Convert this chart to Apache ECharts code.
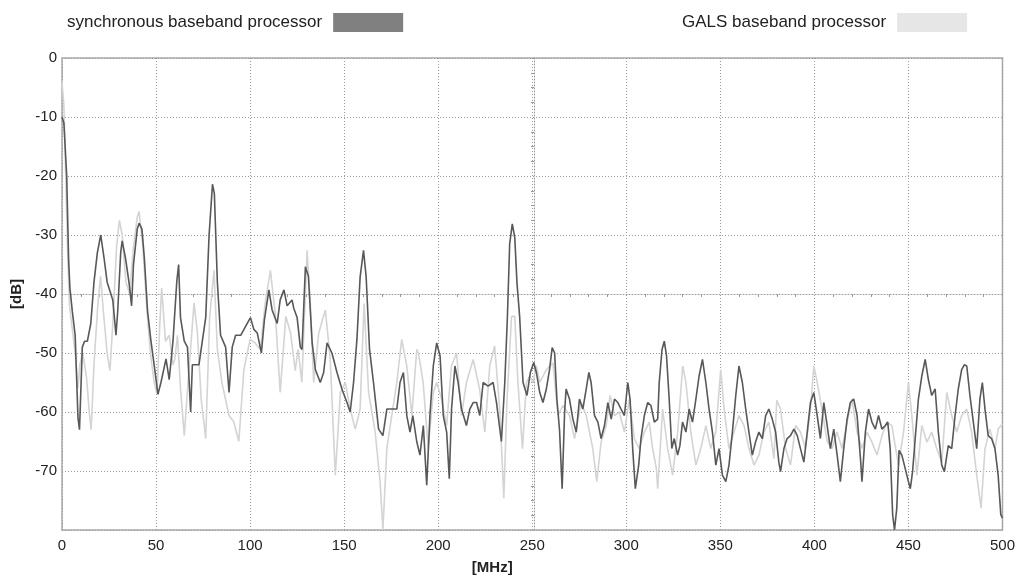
<!DOCTYPE html>
<html>
<head>
<meta charset="utf-8">
<script src="https://cdn.jsdelivr.net/npm/echarts@6/dist/echarts.min.js"></script>
<style>
  html, body { margin: 0; padding: 0; background: #fff; }
  #chart { width: 1018px; height: 580px; }
</style>
</head>
<body>
<div id="chart"></div>
<script>
// spectrum readings, [MHz, dB]
var syncName = 'synchronous baseband processor';
var galsName = 'GALS baseband processor';

var syncData = [
  [0,-10],[1,-11],[2.5,-20],[3.5,-34],[4.2,-39],[5.5,-43],[7,-47],[8.5,-61],[9.3,-63],[10.8,-49],[12,-48],[13.5,-48],
  [15.3,-45],[17,-38],[18.8,-33],[20.6,-30],[22.4,-34],[24,-38],[26,-40],[27,-41],[28.7,-47],[29.6,-43],[31.2,-33],
  [32,-31],[33.8,-34],[35.6,-38],[37,-42],[38,-35],[40,-29],[41,-28],[42.5,-29],[43.8,-34],[45.5,-43],[47.3,-48],
  [49,-52],[51,-57],[52.6,-55],[55.3,-51],[57,-54.5],[59,-48],[61,-38],[62,-35],[63,-44],[65,-48],[66.7,-49],
  [68.4,-60],[69.3,-52],[71,-52],[72.8,-52],[74.6,-48],[76.4,-44],[78.2,-30],[80,-21.4],[81,-23],[82.6,-38],
  [84.3,-47],[87,-49],[88.8,-56.7],[90.5,-49],[92.3,-47],[95,-47],[97.6,-45.5],[100.2,-44],[102,-46],[103.8,-46.6],
  [106,-50],[107.6,-44.4],[110,-39.3],[111.7,-42.7],[114.4,-45],[116,-41],[118,-39.3],[119.7,-42],[122.3,-41],
  [123.2,-42.4],[125,-44],[126.7,-49],[127.6,-49.4],[129.4,-35.4],[131,-37],[133,-48.3],[134.7,-52.8],[137.3,-55],
  [139.1,-53.3],[140.9,-48.3],[143.5,-50],[146.2,-53.3],[148.8,-56.1],[151.5,-58.4],[153.2,-60],[155,-55],
  [156.8,-47.7],[158.5,-37.1],[160.3,-32.6],[161.7,-37.1],[163.5,-49.4],[165.6,-55],[168.3,-62.9],[170.6,-64],
  [172.7,-59.5],[175.3,-59.5],[178,-59.5],[179.7,-55],[181.5,-53.3],[183.3,-60.6],[185,-63.4],[186.5,-60.6],
  [188.6,-65],[190.3,-67.3],[192.1,-62.3],[193.9,-72.4],[195.6,-60.6],[197.4,-52.2],[199.2,-48.3],[201,-50.5],
  [202.7,-60.6],[204.5,-63.4],[205.9,-71.3],[207.1,-59.5],[208.9,-52.2],[210.6,-55],[212.4,-59.5],[215,-62.3],
  [216.8,-59.5],[218.6,-58.4],[220.4,-58.4],[222.1,-60.6],[223.9,-55],[226.5,-55.6],[229.2,-55],[231,-58.4],
  [233.6,-65],[235.4,-55],[236.8,-43.8],[238,-31.5],[239.4,-28.1],[240.7,-30.4],[241.9,-38.2],[243.3,-43.8],
  [245.1,-55],[247.2,-57.2],[249,-53.3],[250.8,-51.6],[252.2,-53.3],[254,-56.7],[255.7,-58.4],[257.5,-56.1],
  [259.2,-52.8],[260.6,-49.1],[261.9,-50],[263.1,-57.8],[264.5,-63],[265.9,-73],[267.2,-60],[268,-56.1],
  [269.8,-57.8],[271.6,-61.2],[273.4,-63.4],[275.1,-57.8],[276.9,-59.5],[278.7,-56.1],[280.1,-53.3],[281.3,-55],
  [283.1,-60.6],[284.9,-61.7],[286.6,-64.5],[288.4,-62.3],[290.2,-58.4],[292,-61.2],[293.7,-57.8],[295.5,-58.4],
  [297.2,-59.5],[299,-60.6],[300.8,-55],[302,-57.8],[303.4,-66.2],[304.8,-73],[306.6,-69],[307.8,-64.5],
  [309.6,-60.6],[311.4,-58.4],[313.1,-58.9],[314.9,-61.7],[316.7,-61.2],[317.5,-55],[319,-49.4],[320.2,-48],
  [321.4,-50.5],[322.8,-57.8],[324.2,-66.2],[325.5,-64.5],[327.3,-67.3],[328.5,-65.7],[329.9,-61.7],[331.7,-63.4],
  [333.4,-59.5],[335.2,-61.7],[337,-57.8],[338.7,-53.9],[340.5,-51.1],[342.3,-55],[344,-59.5],[345.8,-63.4],
  [347.6,-69],[349.3,-66.2],[351.1,-70.7],[352.9,-71.8],[354.6,-69],[356.4,-63.4],[358.2,-57.2],[359.9,-52.2],
  [361.7,-55],[363.5,-59.5],[365.2,-63.4],[367,-67.3],[368.8,-65],[370.5,-63.4],[372.3,-64.5],[374.1,-60.6],
  [375.8,-59.5],[377.6,-61.2],[379.4,-63.4],[381.1,-68.5],[382,-70.1],[383.8,-66.2],[385.5,-64.5],[387.3,-64],
  [389.1,-62.9],[390.9,-64],[392.6,-66.2],[394.4,-68.5],[396.2,-63.4],[397.9,-58.4],[399.7,-56.7],[401.5,-60.6],
  [403.2,-64.5],[405,-58.4],[406.8,-62.3],[408.5,-66.2],[410.3,-62.9],[412.1,-67.3],[413.8,-71.8],[415.6,-66.2],
  [417.4,-61.2],[419.1,-58.4],[420.9,-57.8],[422.7,-60.6],[424.5,-67.9],[425.3,-71.8],[427.1,-63.4],[428.8,-59.5],
  [430.6,-61.7],[432.4,-62.9],[434.1,-60.6],[435.9,-62.9],[437.7,-62.3],[439,-61.7],[440.3,-66.2],[441.6,-77.4],
  [442.6,-80],[443.8,-76.3],[445,-66.5],[446.5,-67.3],[448.3,-69.6],[450,-71.8],[451,-73],[452.2,-70.1],
  [453.6,-64.5],[455.3,-57.8],[457.1,-53.9],[458.9,-51.1],[460.6,-54.5],[462.4,-57.2],[464.2,-56.1],[465.9,-63.4],
  [467.7,-69],[469.1,-70.1],[471.2,-65.7],[473,-66.2],[474.8,-60.6],[476.5,-56.1],[478.3,-52.8],[479.7,-52],
  [481,-52.2],[482.7,-57.2],[484.5,-61.7],[486.3,-66.2],[488,-57.8],[489.3,-55],[490.7,-59.5],[492.4,-64],
  [494.2,-64.5],[496,-66.2],[497.7,-70.7],[499.1,-77.4],[500,-78]
];

var galsData = [
  [0,-4],[1,-8],[2,-20],[3,-33],[4,-42],[5.5,-46],[7,-50],[8.5,-56],[9.5,-52],[11,-50],[13,-54],[14.5,-60],
  [15.5,-63],[17,-52],[19,-42],[20.5,-37],[22,-43],[24,-50],[25.5,-53],[27,-45],[29,-32],[30.5,-27.5],[32,-30],
  [34,-38],[36,-40],[38,-32],[40,-27],[41,-26],[43,-32],[45,-42],[47,-50],[49,-55],[50.5,-57],[52,-45],[53,-39],
  [55,-48],[57,-47],[59,-52],[60,-51],[61.4,-47],[63,-56],[65,-64],[67,-55],[70.2,-41.5],[72,-46.6],[74,-57.8],
  [76.4,-64.5],[78.5,-44],[80.8,-36],[82.6,-49.4],[85,-55],[88.8,-60.6],[91.4,-61.7],[94,-65],[96.7,-52.8],
  [100,-47.7],[102.6,-48.3],[105.5,-49.4],[108,-41.6],[110.8,-36],[113.5,-43.8],[116,-56.7],[119,-43.8],
  [121.5,-46.6],[124,-53],[125.5,-49.4],[127.5,-55],[130.3,-32.6],[132,-41.6],[133.8,-55],[136.5,-46.6],
  [140,-42.7],[142.6,-51],[145.3,-70.7],[148,-56.7],[150.6,-55],[153.2,-59.5],[155.9,-62.9],[158.5,-59.5],
  [160.6,-41.6],[163,-56.7],[166.5,-63.4],[169.1,-71.8],[170.6,-80],[172.7,-66.2],[175.3,-60.6],[178,-55],
  [180.6,-47.7],[183.3,-52.2],[186,-60.6],[188.6,-49.4],[189.5,-50],[192,-55],[194.7,-66.2],[197.4,-56.7],
  [199.2,-55],[201.8,-57.8],[204.5,-62.3],[207,-52.2],[209.8,-50],[212.4,-60.6],[215,-55],[218.6,-51.1],
  [222,-56.1],[224.8,-63.4],[227.4,-52.2],[230,-48.8],[232.7,-59.5],[234.9,-74.6],[236.6,-57.8],[239,-43.8],
  [240.7,-43.8],[242.4,-55],[244.8,-66.2],[246.9,-55],[248.6,-53.9],[250.4,-55],[252.2,-52.2],[254,-55],
  [257.5,-52.8],[261,-51.7],[263.7,-60.6],[266.3,-58.9],[269.8,-60.6],[272.5,-64.5],[276,-58.4],[278.7,-60.6],
  [282.2,-66.2],[284.3,-71.8],[286.6,-65.1],[289.3,-62.3],[291.4,-57.2],[293.7,-60.6],[296.3,-60],[299,-63.4],
  [301.6,-57.8],[304.3,-64.5],[306.9,-66.2],[309.6,-63.4],[312.2,-61.7],[314,-66.2],[316,-69.6],[316.7,-73],
  [319.3,-59.5],[322,-66.2],[324.6,-70.7],[327.3,-63.4],[330,-52.2],[331.7,-55],[334.3,-63.4],[337,-69],
  [339.6,-66.2],[342.3,-62.3],[344.9,-66.2],[347.6,-63.4],[350.2,-52.8],[352,-59.5],[354.6,-66.2],[357.3,-63.4],
  [359.9,-60.6],[362.6,-62.3],[365.2,-66.2],[367.9,-69],[370.5,-67.3],[373.2,-63.4],[375.8,-61.7],[378.5,-67.9],
  [380,-58],[382,-59.5],[384.7,-66.2],[387.3,-69],[390,-62.3],[392.6,-63.4],[395.3,-66.2],[397.9,-59.5],
  [399.7,-52.2],[401.5,-55],[404,-59.5],[406.8,-65],[409.4,-66.2],[412,-63.4],[414.7,-66.2],[417.4,-61.7],
  [420,-57.8],[422.7,-63.4],[425.3,-66.2],[428,-63.4],[430.6,-65.1],[433.3,-67.3],[435.9,-64],[438.6,-61.7],
  [441.2,-62.3],[444.7,-69],[447.4,-63.4],[450,-55],[451.8,-60.6],[454.5,-70.7],[457.1,-62.3],[459.8,-65.1],
  [462.4,-63.4],[465,-66.2],[467.7,-68.5],[470.4,-56.7],[473,-60.6],[475.7,-63.4],[478.3,-60.6],[481,-59.5],
  [483.6,-63.4],[486.3,-70.7],[488.6,-76.3],[490.7,-66.2],[493.3,-62.9],[496,-66.2],[497.7,-62.9],[500,-62]
];

var xMin = 0, xMax = 500, xStep = 50;
var yMin = -80, yMax = 0, yStep = 10;

var chart = echarts.init(document.getElementById('chart'));
var font = '"Liberation Sans", Arial, sans-serif';
var gridCol = '#9a9a9a';

var option = {
    backgroundColor: '#fff',
    animation: false,
    textStyle: { fontFamily: font },
    legend: [{
        data: [syncName],
        left: 62, top: 8,
        align: 'right',
        icon: 'rect',
        itemWidth: 70, itemHeight: 19,
        textStyle: { fontSize: 17, color: '#222', fontFamily: font, padding: [0, 6, 0, 0] }
    }, {
        data: [galsName],
        left: 677, top: 8,
        align: 'right',
        icon: 'rect',
        itemWidth: 70, itemHeight: 19,
        textStyle: { fontSize: 17, color: '#222', fontFamily: font, padding: [0, 6, 0, 0] }
    }],
    grid: { left: 62, right: 11, top: 58, bottom: 50, show: true, borderColor: '#aaa', borderWidth: 1.5 },
    xAxis: [{
        type: 'value', min: xMin, max: xMax, interval: xStep,
        name: '[MHz]', nameLocation: 'middle', nameGap: 30,
        nameTextStyle: { fontWeight: 'bold', fontSize: 15, color: '#222', padding: [0, 80, 0, 0] },
        axisLine: { show: false },
        axisTick: { show: false },
        axisLabel: { fontSize: 15, color: '#222', margin: 8 },
        splitLine: { show: true, lineStyle: { color: gridCol, type: [1, 2], width: 1 } }
    }, {
        // crosshair at -40 dB
        type: 'value', min: xMin, max: xMax, interval: xStep,
        position: 'bottom', offset: -236,
        axisLine: { show: true, lineStyle: { color: gridCol, type: [1, 2] } },
        axisTick: { show: false },
        minorTick: { show: true, splitNumber: 5, length: 3, lineStyle: { color: '#999' } },
        axisLabel: { show: false },
        splitLine: { show: false }
    }],
    yAxis: [{
        type: 'value', min: yMin, max: yMax, interval: yStep,
        name: '[dB]', nameLocation: 'middle', nameGap: 27, nameRotate: 90,
        nameTextStyle: { fontWeight: 'bold', fontSize: 15, color: '#222' },
        axisLine: { show: false },
        axisTick: { show: false },
        axisLabel: {
            fontSize: 15, color: '#222', margin: 5,
            formatter: function (v) { return v === yMin ? '' : v; }
        },
        splitLine: { show: true, lineStyle: { color: gridCol, type: [1, 2], width: 1 } }
    }, {
        // crosshair at 250 MHz
        type: 'value', min: yMin, max: yMax, interval: yStep,
        position: 'left', offset: -472,
        axisLine: { show: true, lineStyle: { color: gridCol, type: [1, 2] } },
        axisTick: { show: false },
        minorTick: { show: true, splitNumber: 4, length: 3, lineStyle: { color: '#999' } },
        axisLabel: { show: false },
        splitLine: { show: false }
    }],
    series: [{
        name: galsName,
        type: 'line',
        data: galsData,
        showSymbol: false,
        itemStyle: { color: '#e6e6e6' },
        lineStyle: { color: '#d4d4d4', width: 1.6 },
        z: 2
    }, {
        name: syncName,
        type: 'line',
        data: syncData,
        showSymbol: false,
        itemStyle: { color: '#808080' },
        lineStyle: { color: '#585858', width: 1.6 },
        z: 3
    }]
};
chart.setOption(option);
</script>
</body>
</html>
